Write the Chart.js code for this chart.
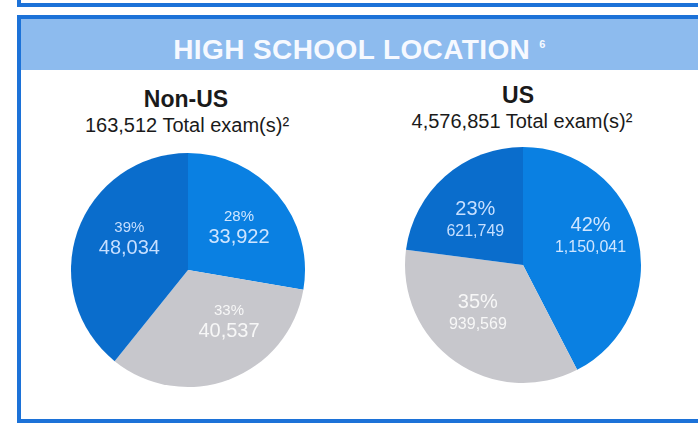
<!DOCTYPE html>
<html>
<head>
<meta charset="utf-8">
<title>High School Location</title>
<script src="https://cdn.jsdelivr.net/npm/chart.js"></script>
<style>
  html,
  body {
    margin: 0;
    padding: 0;
    background: #ffffff;
  }
  body {
    position: relative;
    width: 698px;
    height: 425px;
    overflow: hidden;
    font-family: "Liberation Sans", Arial, sans-serif;
    color: #1a1a1a;
  }
  .prev-box {
    position: absolute;
    left: 17px;
    top: -10px;
    width: 720px;
    height: 13px;
    border-left: 4px solid #1c72d8;
    border-bottom: 4px solid #1c72d8;
  }
  .box {
    position: absolute;
    left: 17px;
    top: 15px;
    width: 720px;
    height: 400px;
    border: 4px solid #1c72d8;
    border-right: none;
  }
  .band {
    position: absolute;
    left: 0;
    top: 0;
    width: 677px;
    height: 51px;
    background: #8dbbee;
    color: #f6f9ff;
    text-align: center;
    font-size: 28px;
    font-weight: bold;
    letter-spacing: 0.4px;
    line-height: 51px;
  }
  .band sup {
    font-size: 11px;
    vertical-align: 11px;
    margin-left: 9px;
  }
  .pie-title {
    position: absolute;
    width: 260px;
    text-align: center;
    font-size: 23px;
    font-weight: bold;
    line-height: 23px;
  }
  .pie-sub {
    position: absolute;
    width: 300px;
    text-align: center;
    font-size: 20px;
    line-height: 20px;
  }
  .pie-wrap {
    position: absolute;
    width: 240px;
    height: 240px;
  }
</style>
</head>
<body>
  <div class="prev-box"></div>
  <div class="box">
    <div class="band">HIGH SCHOOL LOCATION<sup>6</sup></div>
  </div>

  <div class="pie-title" style="left: 56px; top: 88px">Non-US</div>
  <div class="pie-sub" style="left: 37px; top: 115px">163,512 Total exam(s)²</div>
  <div class="pie-wrap" style="left: 68px; top: 150px"><canvas id="nonUsChart"></canvas></div>

  <div class="pie-title" style="left: 388px; top: 84px">US</div>
  <div class="pie-sub" style="left: 372px; top: 111px">4,576,851 Total exam(s)²</div>
  <div class="pie-wrap" style="left: 403px; top: 145px"><canvas id="usChart"></canvas></div>

<script>
// Data
var sliceNames = ["Group A", "Group B", "Group C"];
var nonUsValues = [33922, 40537, 48034];
var usValues = [1150041, 939569, 621749];
var sliceColors = ["#0a80e2", "#c7c7cc", "#0a6dcc"];
var labelColors = ["#cfe5ff", "#f7f7f7", "#c6dfff"];

// Slice labels: percent on top, count below
var sliceLabels = {
  id: "sliceLabels",
  afterDatasetsDraw: function (chart, args, opts) {
    var ctx = chart.ctx;
    var meta = chart.getDatasetMeta(0);
    var values = chart.data.datasets[0].data;
    var total = values.reduce(function (a, b) {
      return a + b;
    }, 0);
    ctx.save();
    ctx.textAlign = "center";
    ctx.textBaseline = "middle";
    meta.data.forEach(function (arc, i) {
      var mid = (arc.startAngle + arc.endAngle) / 2 + (opts.nudge[i] * Math.PI) / 180;
      var dist = arc.outerRadius * opts.dist[i];
      var x = arc.x + Math.cos(mid) * dist;
      var y = arc.y + Math.sin(mid) * dist;
      ctx.fillStyle = labelColors[i];
      ctx.font = opts.pctFont;
      ctx.fillText(Math.round((values[i] / total) * 100) + "%", x, y - opts.gap);
      ctx.font = opts.valFont;
      ctx.fillText(values[i].toLocaleString("en-US"), x, y + opts.gap);
    });
    ctx.restore();
  },
};

function pieOptions(pad, labelOpts) {
  return {
    responsive: true,
    maintainAspectRatio: false,
    animation: false,
    layout: {
      padding: pad,
    },
    plugins: {
      legend: {
        display: false,
      },
      tooltip: {
        enabled: false,
      },
      sliceLabels: labelOpts,
    },
  };
}

// Non-US Chart
var nonUsCanvas = document.getElementById("nonUsChart");
if (nonUsCanvas) {
  var ctx = nonUsCanvas.getContext("2d");
  var nonUsChart = new Chart(ctx, {
    type: "pie",
    data: {
      labels: sliceNames,
      datasets: [
        {
          data: nonUsValues,
          backgroundColor: sliceColors,
          borderWidth: 0,
        },
      ],
    },
    options: pieOptions(3, {
      dist: [0.57, 0.56, 0.57],
      nudge: [0, -18, 9],
      gap: 10,
      pctFont: "15px 'Liberation Sans', Arial, sans-serif",
      valFont: "20px 'Liberation Sans', Arial, sans-serif",
    }),
    plugins: [sliceLabels],
  });
}

// US Chart
var usCanvas = document.getElementById("usChart");
if (usCanvas) {
  var ctx = usCanvas.getContext("2d");
  var usChart = new Chart(ctx, {
    type: "pie",
    data: {
      labels: sliceNames,
      datasets: [
        {
          data: usValues,
          backgroundColor: sliceColors,
          borderWidth: 0,
        },
      ],
    },
    options: pieOptions(2, {
      dist: [0.62, 0.56, 0.55],
      nudge: [-9, 8, -6],
      gap: 11,
      pctFont: "20px 'Liberation Sans', Arial, sans-serif",
      valFont: "16px 'Liberation Sans', Arial, sans-serif",
    }),
    plugins: [sliceLabels],
  });
}
</script>
</body>
</html>
